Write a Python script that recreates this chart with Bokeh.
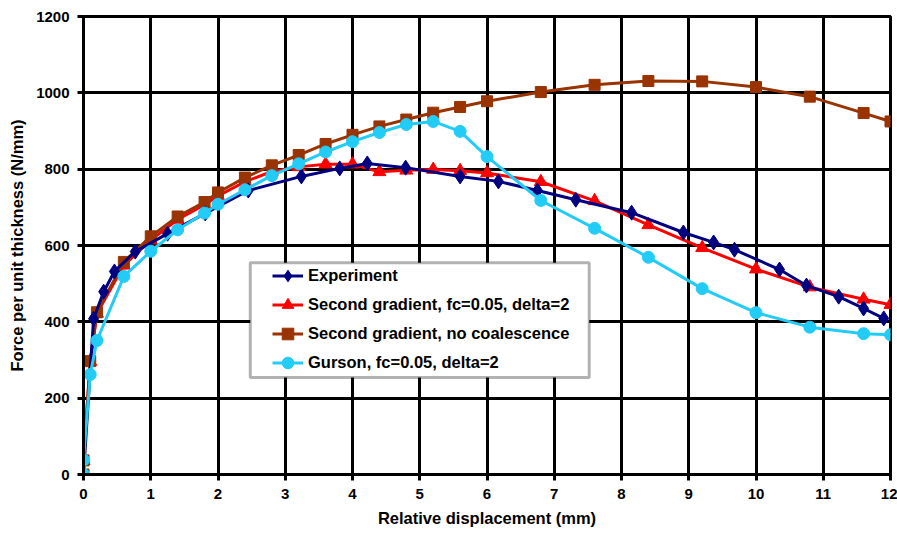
from bokeh.plotting import figure
from bokeh.models import Legend, LegendItem, FixedTicker, BoxAnnotation, Range1d
from bokeh.embed import file_html
from bokeh.resources import INLINE

# ---------------- data ----------------
exp_x = [0, 0.15, 0.3, 0.46, 0.77, 1.25, 1.81, 2.45, 3.24, 3.81, 4.22, 4.79, 5.6, 6.17,
         6.75, 7.32, 8.15, 8.92, 9.37, 9.68, 10.35, 10.75, 11.23, 11.6, 11.9]
exp_y = [0, 408, 479, 532, 584, 631, 684, 744, 781, 802, 815, 804, 781, 768,
         744, 720, 686, 634, 608, 589, 537, 495, 466, 435, 409]

sg_x = [0, 0, 0.1, 0.2, 0.6, 1.0, 1.4, 1.8, 2.0, 2.4, 2.8, 3.2, 3.6, 4.0, 4.4, 4.8, 5.2,
        5.6, 6.0, 6.8, 7.6, 8.4, 9.2, 10.0, 10.8, 11.6, 12.0]
sg_y = [0, 36, 296, 422, 548, 614, 668, 707, 730, 767, 794, 806, 813, 813, 793, 797, 799,
        796, 790, 767, 717, 654, 594, 538, 491, 459, 445]

nc_x = [0, 0, 0.1, 0.2, 0.6, 1.0, 1.4, 1.8, 2.0, 2.4, 2.8, 3.2, 3.6, 4.0, 4.4, 4.8, 5.2,
        5.6, 6.0, 6.8, 7.6, 8.4, 9.2, 10.0, 10.8, 11.6, 12.0]
nc_y = [0, 37, 297, 425, 557, 624, 676, 714, 739, 778, 810, 837, 866, 890, 912, 930, 948,
        963, 978, 1002, 1021, 1031, 1030, 1015, 990, 947, 925]

gu_x = [0, 0, 0.1, 0.2, 0.6, 1.0, 1.4, 1.8, 2.0, 2.4, 2.8, 3.2, 3.6, 4.0, 4.4, 4.8, 5.2,
        5.6, 6.0, 6.8, 7.6, 8.4, 9.2, 10.0, 10.8, 11.6, 12.0]
gu_y = [0, 38, 262, 351, 519, 585, 641, 685, 708, 746, 783, 814, 845, 872, 896, 917, 925,
        899, 833, 718, 645, 569, 487, 424, 386, 369, 366]

labels = ["Experiment",
          "Second gradient, fc=0.05, delta=2",
          "Second gradient, no coalescence",
          "Gurson, fc=0.05, delta=2"]

x_ticks = list(range(0, 13))
y_ticks = list(range(0, 1201, 200))

# ---------------- styling ----------------
FONT = "Liberation Sans"
NAVY = "#000080"
RED = "#FF0000"
BROWN = "#993300"
CYAN = "#22CCF7"

p = figure(width=897, height=534,
           x_range=Range1d(0, 12), y_range=Range1d(0, 1200),
           output_backend="svg", toolbar_location=None,
           min_border_left=83, min_border_right=7,
           min_border_top=16, min_border_bottom=60)

p.background_fill_color = "white"
p.border_fill_color = "white"
p.outline_line_color = "black"
p.outline_line_width = 3

for g in (p.xgrid, p.ygrid):
    g.grid_line_color = "black"
    g.grid_line_width = 3
    g.grid_line_alpha = 1.0

p.xaxis.ticker = FixedTicker(ticks=x_ticks)
p.yaxis.ticker = FixedTicker(ticks=y_ticks)
p.xgrid.ticker = FixedTicker(ticks=x_ticks)
p.ygrid.ticker = FixedTicker(ticks=y_ticks)

for ax in (p.xaxis[0], p.yaxis[0]):
    ax.axis_line_color = "black"
    ax.axis_line_width = 3
    ax.major_tick_line_color = "black"
    ax.major_tick_line_width = 3
    ax.major_tick_out = 6
    ax.major_tick_in = 0
    ax.minor_tick_line_color = None
    ax.major_label_text_font = FONT
    ax.major_label_text_font_style = "bold"
    ax.major_label_text_font_size = "15px"
    ax.major_label_text_color = "black"
    ax.axis_label_text_font = FONT
    ax.axis_label_text_font_style = "bold"
    ax.axis_label_text_font_size = "16.5px"
    ax.axis_label_text_color = "black"
    ax.major_label_standoff = 8

p.xaxis.axis_label = "Relative displacement (mm)"
p.yaxis.axis_label = "Force per unit thickness (N/mm)"
p.xaxis.axis_label_standoff = 7
p.yaxis.axis_label_standoff = 7

# legend frame (white box with black border)
box = BoxAnnotation(left=2.48, right=7.52, bottom=254, top=555,
                    fill_color="white", fill_alpha=1.0,
                    line_color="black", line_width=3, level="annotation")
p.add_layout(box)

# series
r_l = p.line(sg_x, sg_y, line_color=RED, line_width=3)
r_s = p.scatter(sg_x, sg_y, marker="triangle", size=13, fill_color=RED, line_color=RED)

b_l = p.line(nc_x, nc_y, line_color=BROWN, line_width=3)
b_s = p.scatter(nc_x, nc_y, marker="square", size=11, fill_color=BROWN, line_color=BROWN)

e_l = p.line(exp_x, exp_y, line_color=NAVY, line_width=3)
e_s = p.scatter(exp_x, exp_y, marker="diamond", size=15, fill_color=NAVY, line_color=NAVY)

c_l = p.line(gu_x, gu_y, line_color=CYAN, line_width=3)
c_s = p.scatter(gu_x, gu_y, marker="circle", size=12, fill_color=CYAN, line_color=CYAN)

legend = Legend(items=[
    LegendItem(label=labels[0], renderers=[e_l, e_s]),
    LegendItem(label=labels[1], renderers=[r_l, r_s]),
    LegendItem(label=labels[2], renderers=[b_l, b_s]),
    LegendItem(label=labels[3], renderers=[c_l, c_s]),
], location=(189, 97))
legend.padding = 0
legend.spacing = 0
legend.margin = 0
legend.label_height = 29
legend.glyph_height = 29
legend.glyph_width = 31
legend.label_standoff = 5
legend.border_line_alpha = 0
legend.background_fill_alpha = 0
legend.label_text_font = FONT
legend.label_text_font_style = "bold"
legend.label_text_font_size = "16.5px"
legend.label_text_color = "black"
p.add_layout(legend, "center")

open("out.html", "w").write(file_html(p, INLINE))
